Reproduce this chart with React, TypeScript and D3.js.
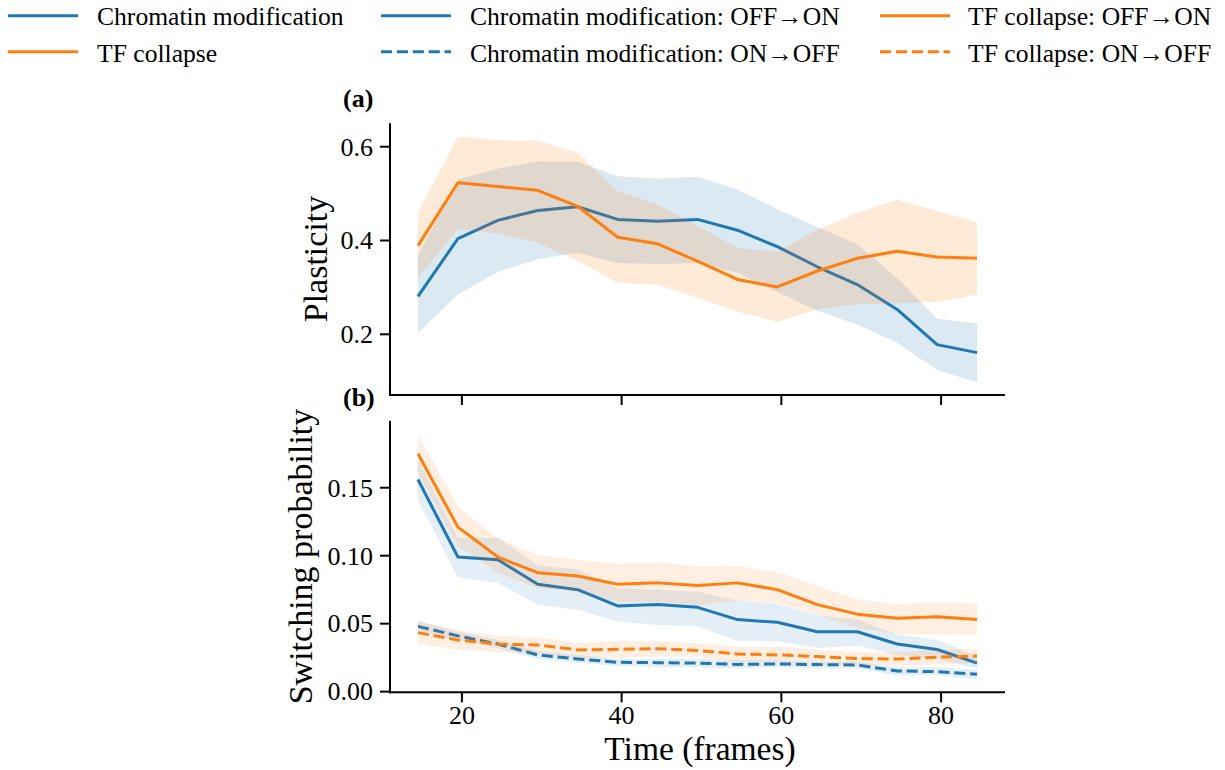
import React from "react";
import * as d3 from "d3";

const times = [14.5, 19.5, 24.5, 29.5, 34.5, 39.5, 44.5, 49.5, 54.5, 59.5, 64.5, 69.5, 74.5, 79.5, 84.5];

// Panel (a): plasticity
const plastChromMean = [0.281, 0.404, 0.443, 0.464, 0.472, 0.445, 0.441, 0.445, 0.422, 0.387, 0.344, 0.306, 0.253, 0.178, 0.161];
const plastChromLow = [0.203, 0.285, 0.333, 0.360, 0.374, 0.352, 0.350, 0.352, 0.331, 0.290, 0.250, 0.221, 0.182, 0.124, 0.098];
const plastChromHigh = [0.367, 0.530, 0.553, 0.569, 0.568, 0.537, 0.532, 0.536, 0.509, 0.467, 0.429, 0.392, 0.320, 0.233, 0.223];
const plastTFMean = [0.389, 0.523, 0.515, 0.507, 0.473, 0.407, 0.393, 0.356, 0.317, 0.301, 0.335, 0.362, 0.377, 0.365, 0.362];
const plastTFLow = [0.320, 0.424, 0.415, 0.396, 0.356, 0.310, 0.305, 0.278, 0.248, 0.227, 0.253, 0.264, 0.267, 0.269, 0.285];
const plastTFHigh = [0.459, 0.622, 0.613, 0.613, 0.587, 0.505, 0.477, 0.431, 0.384, 0.376, 0.423, 0.459, 0.487, 0.463, 0.439];

// Panel (b): switching probability
const chromOnMean = [0.156, 0.099, 0.097, 0.079, 0.075, 0.063, 0.064, 0.062, 0.053, 0.051, 0.044, 0.044, 0.035, 0.031, 0.021];
const chromOnLow = [0.141, 0.084, 0.080, 0.064, 0.060, 0.0515, 0.049, 0.048, 0.0375, 0.037, 0.032, 0.034, 0.027, 0.024, 0.017];
const chromOnHigh = [0.170, 0.113, 0.113, 0.093, 0.090, 0.076, 0.075, 0.0735, 0.067, 0.065, 0.056, 0.053, 0.042, 0.038, 0.026];
const tfOnMean = [0.175, 0.121, 0.099, 0.0875, 0.085, 0.079, 0.080, 0.078, 0.080, 0.075, 0.064, 0.057, 0.054, 0.055, 0.053];
const tfOnLow = [0.161, 0.107, 0.0875, 0.076, 0.074, 0.066, 0.066, 0.0635, 0.067, 0.0657, 0.0564, 0.0466, 0.0424, 0.042, 0.0417];
const tfOnHigh = [0.189, 0.136, 0.113, 0.1005, 0.097, 0.094, 0.0956, 0.092, 0.0924, 0.088, 0.078, 0.068, 0.0645, 0.066, 0.065];
const chromOffMean = [0.048, 0.041, 0.035, 0.027, 0.024, 0.0216, 0.0213, 0.021, 0.020, 0.0204, 0.0199, 0.0196, 0.0152, 0.0147, 0.0128];
const chromOffLow = [0.045, 0.038, 0.032, 0.024, 0.021, 0.019, 0.018, 0.018, 0.017, 0.018, 0.017, 0.017, 0.012, 0.012, 0.0093];
const chromOffHigh = [0.052, 0.044, 0.038, 0.030, 0.027, 0.024, 0.024, 0.024, 0.023, 0.023, 0.022, 0.022, 0.018, 0.018, 0.016];
const tfOffMean = [0.0434, 0.038, 0.035, 0.0343, 0.0307, 0.0312, 0.0316, 0.0302, 0.0277, 0.027, 0.0258, 0.0243, 0.024, 0.0253, 0.0262];
const tfOffLow = [0.035, 0.031, 0.029, 0.028, 0.025, 0.025, 0.026, 0.0255, 0.022, 0.022, 0.021, 0.020, 0.019, 0.020, 0.021];
const tfOffHigh = [0.052, 0.045, 0.041, 0.040, 0.036, 0.037, 0.037, 0.0356, 0.033, 0.033, 0.031, 0.029, 0.029, 0.031, 0.0314];

const xTicks = [20, 40, 60, 80];
const yTicksA = [0.2, 0.4, 0.6];
const yTicksB = [0.0, 0.05, 0.1, 0.15];

const legendItems = [
  { label: "Chromatin modification", color: "#1f77b4", dashed: false, col: 0, row: 0 },
  { label: "TF collapse", color: "#ff7f0e", dashed: false, col: 0, row: 1 },
  { label: "Chromatin modification: OFF\u2192ON", color: "#1f77b4", dashed: false, col: 1, row: 0 },
  { label: "Chromatin modification: ON\u2192OFF", color: "#1f77b4", dashed: true, col: 1, row: 1 },
  { label: "TF collapse: OFF\u2192ON", color: "#ff7f0e", dashed: false, col: 2, row: 0 },
  { label: "TF collapse: ON\u2192OFF", color: "#ff7f0e", dashed: true, col: 2, row: 1 },
];

const BLUE = "#1f77b4";
const ORANGE = "#ff7f0e";
const FONT = "'Liberation Serif', 'Times New Roman', serif";
const DASH = "11.1,4.8";

const X0 = 390, X1 = 1005;

export default function App() {
  const x = d3.scaleLinear().domain([11, 88]).range([X0, X1]);
  const ya = d3.scaleLinear().domain([0.0706, 0.6499]).range([395, 123.3]);
  const yb = d3.scaleLinear().domain([-0.0005, 0.1993]).range([692.3, 420.7]);

  const mkLine = (y: d3.ScaleLinear<number, number>) =>
    d3.line<number>().x((_, i) => x(times[i])).y((d) => y(d));
  const mkArea = (y: d3.ScaleLinear<number, number>, lo: number[], hi: number[]) =>
    d3.area<number>().x((_, i) => x(times[i])).y0((_, i) => y(lo[i])).y1((_, i) => y(hi[i]))(times) || "";

  const la = mkLine(ya);
  const lb = mkLine(yb);

  const series = (
    y: d3.ScaleLinear<number, number>,
    line: d3.Line<number>,
    mean: number[], lo: number[], hi: number[],
    color: string, dashed: boolean, alpha: number, key: string
  ) => (
    <g key={key}>
      <path d={mkArea(y, lo, hi)} fill={color} fillOpacity={alpha} stroke="none" />
      <path d={line(mean) || ""} fill="none" stroke={color} strokeWidth={3}
        strokeDasharray={dashed ? DASH : undefined} strokeLinejoin="round" />
    </g>
  );

  const yAxis = (y: d3.ScaleLinear<number, number>, ticks: number[], fmt: (v: number) => string, top: number, bottom: number) => (
    <g>
      <line x1={X0} x2={X0} y1={top} y2={bottom + 1} stroke="#000" strokeWidth={2} />
      {ticks.map((t) => (
        <g key={t}>
          <line x1={X0 - 10} x2={X0} y1={y(t)} y2={y(t)} stroke="#000" strokeWidth={2} />
          <text x={X0 - 17} y={y(t)} dy="0.34em" textAnchor="end" fontSize={26} fontFamily={FONT}>{fmt(t)}</text>
        </g>
      ))}
    </g>
  );

  const xAxis = (yPos: number, labels: boolean) => (
    <g>
      <line x1={X0 - 1} x2={X1} y1={yPos} y2={yPos} stroke="#000" strokeWidth={2} />
      {xTicks.map((t) => (
        <g key={t}>
          <line x1={x(t)} x2={x(t)} y1={yPos} y2={yPos + 10} stroke="#000" strokeWidth={2} />
          {labels && (
            <text x={x(t)} y={yPos + 32} textAnchor="middle" fontSize={26} fontFamily={FONT}>{t}</text>
          )}
        </g>
      ))}
    </g>
  );

  const legendCols = [
    { lx: 8, tx: 97 },
    { lx: 381, tx: 470 },
    { lx: 880, tx: 968 },
  ];
  const legendRows = [{ ly: 15.7, ty: 25 }, { ly: 51.7, ty: 61.5 }];

  return (
    <svg width={1225} height={770} style={{ position: "absolute", left: 0, top: 0, background: "#fff" }}
      fontFamily={FONT}>
      <rect width={1225} height={770} fill="#fff" />
      {/* Legend */}
      {legendItems.map((it) => {
        const c = legendCols[it.col];
        const r = legendRows[it.row];
        return (
          <g key={it.label}>
            <line x1={c.lx} x2={c.lx + 70} y1={r.ly} y2={r.ly} stroke={it.color} strokeWidth={3}
              strokeDasharray={it.dashed ? DASH : undefined} />
            <text x={c.tx} y={r.ty} fontSize={25.6} fontFamily={FONT}>{it.label}</text>
          </g>
        );
      })}

      {/* Panel (a) */}
      <text x={343} y={107} fontSize={26} fontWeight="bold" fontFamily={FONT}>(a)</text>
      {series(ya, la, plastChromMean, plastChromLow, plastChromHigh, BLUE, false, 0.16, "a1")}
      {series(ya, la, plastTFMean, plastTFLow, plastTFHigh, ORANGE, false, 0.16, "a2")}
      {yAxis(ya, yTicksA, d3.format(".1f"), 123.3, 395)}
      {xAxis(395, false)}
      <text transform={`translate(326.5,259) rotate(-90)`} textAnchor="middle" fontSize={34} fontFamily={FONT}>Plasticity</text>

      {/* Panel (b) */}
      <text x={343} y={406} fontSize={26} fontWeight="bold" fontFamily={FONT}>(b)</text>
      {series(yb, lb, chromOnMean, chromOnLow, chromOnHigh, BLUE, false, 0.12, "b1")}
      {series(yb, lb, chromOffMean, chromOffLow, chromOffHigh, BLUE, true, 0.12, "b2")}
      {series(yb, lb, tfOnMean, tfOnLow, tfOnHigh, ORANGE, false, 0.12, "b3")}
      {series(yb, lb, tfOffMean, tfOffLow, tfOffHigh, ORANGE, true, 0.12, "b4")}
      {yAxis(yb, yTicksB, d3.format(".2f"), 420.7, 692.3)}
      {xAxis(692.3, true)}
      <text transform={`translate(311.5,556.5) rotate(-90)`} textAnchor="middle" fontSize={34} fontFamily={FONT}>Switching probability</text>
      <text x={700} y={760} textAnchor="middle" fontSize={33.5} fontFamily={FONT}>Time (frames)</text>
    </svg>
  );
}
